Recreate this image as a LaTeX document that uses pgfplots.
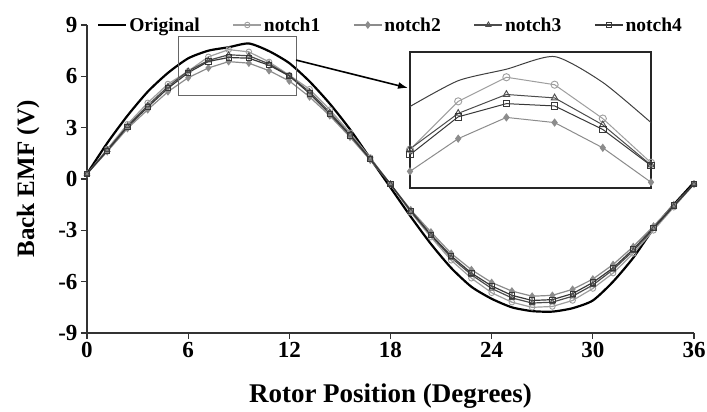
\documentclass[border=0pt]{standalone}
\usepackage{fontspec}
\setmainfont{Liberation Serif}
\usepackage{pgfplots}
\pgfplotsset{compat=1.18}
\usepackage{pgfplotstable}
\usetikzlibrary{arrows.meta}

\pgfplotstableread{
x y
0 0.3
1.2 2.1
2.4 3.7
3.6 5.1
4.8 6.2
6.0 7.05
7.2 7.5
8.4 7.7
9.6 7.92
10.8 7.47
12.0 6.77
13.2 5.7
14.4 4.4
15.6 2.9
16.8 1.2
18.0 -0.5
19.2 -2.2
20.4 -3.8
21.6 -5.2
22.8 -6.3
24.0 -7.0
25.2 -7.5
26.4 -7.72
27.6 -7.75
28.8 -7.55
30.0 -7.1
31.2 -6.0
32.4 -4.6
33.6 -2.9
34.8 -1.5
36.0 -0.2
}\orig

\pgfplotstableread{
x y
0 0.3
1.2 1.75
2.4 3.2
3.6 4.45
4.8 5.55
6.0 6.30
7.2 7.14
8.4 7.56
9.6 7.43
10.8 6.84
12.0 6.07
13.2 5.25
14.4 4.05
15.6 2.7
16.8 1.25
18.0 -0.3
19.2 -1.95
20.4 -3.4
21.6 -4.75
22.8 -5.8
24.0 -6.65
25.2 -7.2
26.4 -7.5
27.6 -7.45
28.8 -7.1
30.0 -6.4
31.2 -5.5
32.4 -4.35
33.6 -3.0
34.8 -1.65
36.0 -0.3
}\notchA

\pgfplotstableread{
x y
0 0.3
1.2 1.6
2.4 2.95
3.6 4.05
4.8 5.1
6.0 5.92
7.2 6.49
8.4 6.86
9.6 6.77
10.8 6.33
12.0 5.73
13.2 4.8
14.4 3.7
15.6 2.45
16.8 1.1
18.0 -0.3
19.2 -1.8
20.4 -3.1
21.6 -4.35
22.8 -5.3
24.0 -6.05
25.2 -6.55
26.4 -6.85
27.6 -6.8
28.8 -6.45
30.0 -5.85
31.2 -5.0
32.4 -3.95
33.6 -2.75
34.8 -1.5
36.0 -0.3
}\notchB

\pgfplotstableread{
x y
0 0.3
1.2 1.7
2.4 3.1
3.6 4.3
4.8 5.4
6.0 6.31
7.2 6.93
8.4 7.26
9.6 7.20
10.8 6.73
12.0 6.03
13.2 5.1
14.4 3.9
15.6 2.6
16.8 1.2
18.0 -0.3
19.2 -1.9
20.4 -3.3
21.6 -4.6
22.8 -5.6
24.0 -6.4
25.2 -6.95
26.4 -7.25
27.6 -7.2
28.8 -6.85
30.0 -6.2
31.2 -5.3
32.4 -4.2
33.6 -2.9
34.8 -1.6
36.0 -0.3
}\notchC

\pgfplotstableread{
x y
0 0.3
1.2 1.65
2.4 3.05
3.6 4.2
4.8 5.3
6.0 6.21
7.2 6.87
8.4 7.10
9.6 7.06
10.8 6.65
12.0 6.02
13.2 5.0
14.4 3.8
15.6 2.55
16.8 1.15
18.0 -0.3
19.2 -1.85
20.4 -3.25
21.6 -4.5
22.8 -5.5
24.0 -6.25
25.2 -6.8
26.4 -7.1
27.6 -7.05
28.8 -6.7
30.0 -6.05
31.2 -5.2
32.4 -4.1
33.6 -2.85
34.8 -1.55
36.0 -0.3
}\notchD

\definecolor{cA}{gray}{0.62}
\definecolor{cB}{gray}{0.55}
\definecolor{cC}{gray}{0.30}
\definecolor{cD}{gray}{0.22}

\begin{document}
\begin{tikzpicture}
\useasboundingbox (-87pt,-79pt) rectangle (620pt,333pt);
\begin{axis}[
  at={(0pt,0pt)}, anchor=south west,
  scale only axis, width=607pt, height=308pt,
  xmin=0, xmax=36, ymin=-9, ymax=9,
  xtick={0,6,...,36}, ytick={-9,-6,...,9},
  axis x line=bottom, axis y line=left,
  axis line style={-, line width=1.2pt, draw=black!80},
  tick align=outside, major tick length=6pt,
  tick style={line width=1.2pt, black!80},
  /pgf/number format/assume math mode=true,
  ticklabel style={font=\fontsize{23}{23}\selectfont\bfseries},
  xlabel={Rotor Position (Degrees)},
  ylabel={Back EMF (V)},
  xlabel style={font=\fontsize{27}{27}\selectfont\bfseries, at={(axis description cs:0.5,-0.205)}, anchor=center},
  ylabel style={font=\fontsize{25}{25}\selectfont\bfseries, at={(axis description cs:-0.097,0.5)}, anchor=center},
  legend style={draw=none, fill=none, at={(axis description cs:0.5,1)}, anchor=center,
    font=\fontsize{19.5}{20}\selectfont\bfseries, inner sep=0pt,
    /tikz/every even column/.append style={column sep=31pt}},
  legend columns=5,
  legend image code/.code={\draw[mark repeat=2,mark phase=2,#1] plot coordinates {(0pt,0pt) (14pt,0pt) (28pt,0pt)};},
]
\addplot[black, line width=2.2pt, smooth, tension=0.4, mark=none] table {\orig};
\addlegendentry{Original}
\addplot[cA, line width=1.2pt, mark=o, mark size=2.8pt, mark options={line width=0.9pt, fill=white}] table {\notchA};
\addlegendentry{notch1}
\addplot[cB, line width=1.2pt, mark=diamond*, mark size=3pt, mark options={fill=cB}] table {\notchB};
\addlegendentry{notch2}
\addplot[cC, line width=1.2pt, mark=triangle, mark size=3pt, mark options={line width=0.9pt}] table {\notchC};
\addlegendentry{notch3}
\addplot[cD, line width=1.2pt, mark=square, mark size=2.6pt, mark options={line width=0.9pt}] table {\notchD};
\addlegendentry{notch4}
\draw[black!60, line width=1pt] (axis cs:5.4,4.9) rectangle (axis cs:12.4,8.3);
\draw[black, line width=1.6pt, -{Latex[length=10pt,width=7pt]}] (axis cs:12.4,6.95) -- (axis cs:19.04,5.32);
\end{axis}
\begin{axis}[
  at={(323pt,145pt)}, anchor=south west,
  scale only axis, width=241pt, height=136pt,
  xmin=6, xmax=12, ymin=5.63, ymax=8.0,
  xtick=\empty, ytick=\empty,
  axis background/.style={fill=white},
  axis line style={line width=1.2pt, black!85},
]
\addplot[black!75, line width=1pt, smooth, tension=0.4, restrict x to domain=5.9:12.1] table {\orig};
\addplot[cA, line width=1pt, mark=o, mark size=3.6pt, mark options={line width=0.9pt, fill=white}, restrict x to domain=5.9:12.1] table {\notchA};
\addplot[cB, line width=1pt, mark=diamond*, mark size=3.4pt, mark options={fill=cB}, restrict x to domain=5.9:12.1] table {\notchB};
\addplot[cC, line width=1pt, mark=triangle, mark size=3.8pt, mark options={line width=0.9pt, fill=white}, restrict x to domain=5.9:12.1] table {\notchC};
\addplot[cD, line width=1pt, mark=square, mark size=3.2pt, mark options={line width=0.9pt, fill=white}, restrict x to domain=5.9:12.1] table {\notchD};
\end{axis}
\end{tikzpicture}
\end{document}
